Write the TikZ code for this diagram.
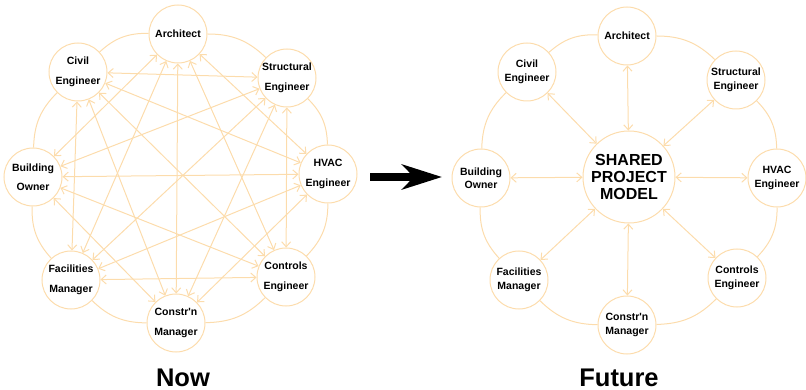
\documentclass[tikz,border=0pt]{standalone}
\usepackage{fontspec}
\setmainfont{Liberation Sans}
\usetikzlibrary{arrows.meta}
\definecolor{peach}{RGB}{252,220,172}

\begin{document}
\begin{tikzpicture}[x=1pt,y=-1pt,line width=1pt,
                    >={Straight Barb[length=5pt,width=9pt]}]

  \tikzstyle{role}=[circle,draw=peach,minimum size=58pt,inner sep=0pt,align=center]
  \tikzstyle{now}=[role,font=\bfseries\fontsize{10.5}{19.5}\selectfont]
  \tikzstyle{future}=[role,font=\bfseries\fontsize{10.5}{13.5}\selectfont]
  \tikzstyle{link}=[draw=peach,<->]
  \tikzstyle{rim}=[draw=peach,-,bend right=22]
  \tikzstyle{title}=[anchor=base,font=\bfseries\fontsize{25.5}{30}\selectfont]

  \useasboundingbox (0,0) rectangle (806,390);

  % now: everybody talks to everybody
  \node[now] (ARC1) at (178,34)  {Architect};
  \node[now] (CIV1) at (78,72)   {Civil\\Engineer};
  \node[now] (STR1) at (287,78)  {Structural\\Engineer};
  \node[now] (OWN1) at (33,177)  {Building\\Owner};
  \node[now] (HVC1) at (328,174) {HVAC\\Engineer};
  \node[now] (FAC1) at (71,280)  {Facilities\\Manager};
  \node[now] (CTL1) at (286,277) {Controls\\Engineer};
  \node[now] (CON1) at (176,323) {Constr\textquotesingle n\\Manager};

  \path
  (ARC1) edge [rim] (CIV1)
  (CIV1) edge [rim] (OWN1)
  (OWN1) edge [rim] (FAC1)
  (FAC1) edge [rim] (CON1)
  (CON1) edge [rim] (CTL1)
  (CTL1) edge [rim] (HVC1)
  (HVC1) edge [rim] (STR1)
  (STR1) edge [rim] (ARC1)

  (ARC1) edge [link] (OWN1)
  (ARC1) edge [link] (FAC1)
  (ARC1) edge [link] (CON1)
  (ARC1) edge [link] (CTL1)
  (ARC1) edge [link] (HVC1)
  (CIV1) edge [link] (STR1)
  (CIV1) edge [link] (HVC1)
  (CIV1) edge [link] (CTL1)
  (CIV1) edge [link] (CON1)
  (CIV1) edge [link] (FAC1)
  (STR1) edge [link] (OWN1)
  (STR1) edge [link] (FAC1)
  (STR1) edge [link] (CON1)
  (STR1) edge [link] (CTL1)
  (OWN1) edge [link] (HVC1)
  (OWN1) edge [link] (CTL1)
  (OWN1) edge [link] (CON1)
  (HVC1) edge [link] (FAC1)
  (HVC1) edge [link] (CON1)
  (FAC1) edge [link] (CTL1)
  ;

  % future: one shared model in the middle
  \node[role,font=\bfseries\fontsize{16}{17}\selectfont,minimum size=92pt]
                      (SPM)  at (629,177) {SHARED\\PROJECT\\MODEL};
  \node[future] (ARC2) at (627,36)  {Architect};
  \node[future] (CIV2) at (527,72)  {Civil\\Engineer};
  \node[future] (STR2) at (736,80)  {Structural\\Engineer};
  \node[future] (OWN2) at (481,178) {Building\\Owner};
  \node[future] (HVC2) at (777,178) {HVAC\\Engineer};
  \node[future] (FAC2) at (519,280) {Facilities\\Manager};
  \node[future] (CTL2) at (737,278) {Controls\\Engineer};
  \node[future] (CON2) at (627,325) {Constr\textquotesingle n\\Manager};

  \path
  (ARC2) edge [rim] (CIV2)
  (CIV2) edge [rim] (OWN2)
  (OWN2) edge [rim] (FAC2)
  (FAC2) edge [rim] (CON2)
  (CON2) edge [rim] (CTL2)
  (CTL2) edge [rim] (HVC2)
  (HVC2) edge [rim] (STR2)
  (STR2) edge [rim] (ARC2)

  (SPM) edge [link] (ARC2)
  (SPM) edge [link] (CIV2)
  (SPM) edge [link] (STR2)
  (SPM) edge [link] (OWN2)
  (SPM) edge [link] (HVC2)
  (SPM) edge [link] (FAC2)
  (SPM) edge [link] (CTL2)
  (SPM) edge [link] (CON2)
  ;

  % the big arrow and the captions
  \coordinate (go)   at (370,177);
  \coordinate (stop) at (442,177);
  \draw[line width=8pt,-{Stealth[length=40pt,width=25pt,inset=12pt]}] (go) -- (stop);

  \node[title] (NOW) at (183,386) {Now};
  \node[title] (FUT) at (619,386) {Future};
\end{tikzpicture}
\end{document}
